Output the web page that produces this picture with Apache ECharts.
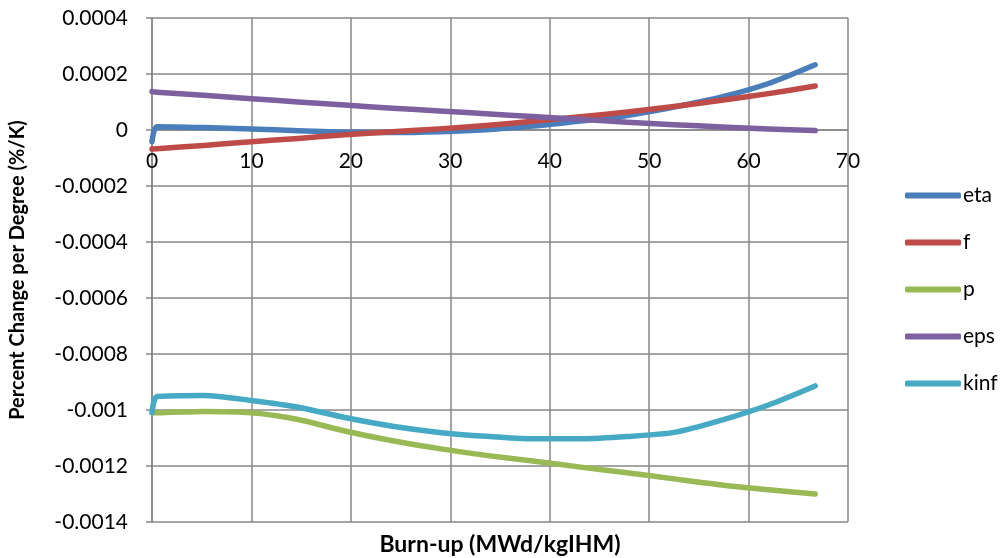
<!DOCTYPE html>
<html>
<head>
<meta charset="utf-8">
<script src="https://cdn.jsdelivr.net/npm/echarts@6/dist/echarts.min.js"></script>
<style>
  html, body { margin: 0; padding: 0; background: #fff; }
  #chart { width: 1005px; height: 558px; }
</style>
</head>
<body>
<div id="chart"></div>
<script>
// Burn-up steps (MWd/kgIHM)
const burnup = [0, 0.5, 5.2, 10, 14.7, 19.4, 24.2, 28.9, 33.6, 38.3, 43.1, 47.8, 52.5, 57.3, 62, 66.7];

// Temperature coefficients of each four-factor term (%/K)
const eta  = [-0.000042, 0.000012, 0.000009, 0.000004, -0.000003, -0.000008, -0.000009, -0.000006, 0.000001, 0.000014, 0.000032, 0.000052, 0.000082, 0.000118, 0.000166, 0.000233];
const f    = [-0.000068, -0.000067, -0.000055, -0.000042, -0.000030, -0.000017, -0.000006, 0.000004, 0.000016, 0.000031, 0.000047, 0.000064, 0.000084, 0.000106, 0.000130, 0.000157];
const p    = [-0.00101, -0.00101, -0.001005, -0.00101, -0.001034, -0.001075, -0.00111, -0.001138, -0.001162, -0.001182, -0.001204, -0.001224, -0.001246, -0.001268, -0.001285, -0.0013];
const eps  = [0.000137, 0.000135, 0.000124, 0.000112, 0.000100, 0.000089, 0.000078, 0.000068, 0.000058, 0.000048, 0.000038, 0.000028, 0.000019, 0.000011, 0.000004, -0.000002];
const kinf = [-0.00101, -0.000952, -0.000948, -0.000966, -0.00099, -0.001027, -0.001058, -0.00108, -0.001094, -0.001103, -0.001103, -0.001095, -0.00108, -0.001036, -0.000982, -0.000914];

const seriesNames = ['eta', 'f', 'p', 'eps', 'kinf'];
const seriesValues = [eta, f, p, eps, kinf];
const seriesColors = ['#4A7EBB', '#BE4B48', '#98B954', '#7D60A0', '#46AAC5'];

// Axis tick labels
const xTickLabels = ['0', '10', '20', '30', '40', '50', '60', '70'];
const yTickLabels = ['-0.0014', '-0.0012', '-0.001', '-0.0008', '-0.0006', '-0.0004', '-0.0002', '0', '0.0002', '0.0004'];
const X_MIN = 0, X_MAX = 70, X_STEP = 10;
const Y_MIN = -0.0014, Y_MAX = 0.0004, Y_STEP = 0.0002;

const FONT = 'Lato, "Open Sans", sans-serif';
const GRID_COLOR = '#878787';

// Plot box in pixels
const GRID = { left: 152, right: 157, top: 18, bottom: 36 };
const PLOT_H = 558 - GRID.top - GRID.bottom;
// Distance from the bottom edge up to the zero line, so the burn-up axis sits on y = 0
const zeroOffset = -PLOT_H * (0 - Y_MIN) / (Y_MAX - Y_MIN);

const chart = echarts.init(document.getElementById('chart'), null, { renderer: 'canvas' });

const series = seriesNames.map((name, i) => ({
  name: name,
  type: 'line',
  data: burnup.map((x, j) => [x, seriesValues[i][j]]),
  showSymbol: false,
  smooth: 0.25,
  lineStyle: { color: seriesColors[i], width: 5.5, cap: 'round', join: 'round' },
  itemStyle: { color: seriesColors[i] },
  emphasis: { disabled: true },
  z: 3
}));

chart.setOption({
  animation: false,
  backgroundColor: '#ffffff',
  grid: Object.assign({ containLabel: false, outerBoundsMode: 'none' }, GRID),
  xAxis: {
    type: 'value',
    position: 'bottom',
    offset: zeroOffset,
    min: X_MIN, max: X_MAX, interval: X_STEP,
    axisLine: { show: true, onZero: false, lineStyle: { color: GRID_COLOR, width: 1.5 } },
    axisTick: { show: false },
    axisLabel: {
      color: '#000', fontFamily: FONT, fontSize: 21, margin: 21,
      formatter: v => xTickLabels[Math.round((v - X_MIN) / X_STEP)]
    },
    splitLine: { show: true, lineStyle: { color: GRID_COLOR, width: 1.5 } }
  },
  yAxis: {
    type: 'value',
    min: Y_MIN, max: Y_MAX, interval: Y_STEP,
    name: 'Percent Change per Degree (%/K)',
    nameLocation: 'middle',
    nameGap: 124,
    nameRotate: 90,
    nameTextStyle: { color: '#000', fontFamily: FONT, fontSize: 20, fontWeight: 'bold' },
    axisLine: { show: true, lineStyle: { color: GRID_COLOR, width: 1.5 } },
    axisTick: { show: true, length: 6, lineStyle: { color: GRID_COLOR, width: 1.5 } },
    axisLabel: {
      color: '#000', fontFamily: FONT, fontSize: 21, margin: 24,
      formatter: v => yTickLabels[Math.round((v - Y_MIN) / Y_STEP)]
    },
    splitLine: { show: true, lineStyle: { color: GRID_COLOR, width: 1.5 } }
  },
  legend: {
    orient: 'vertical',
    left: 900,
    top: 180,
    itemWidth: 56,
    itemHeight: 6,
    itemGap: 26,
    icon: 'roundRect',
    selectedMode: false,
    textStyle: { color: '#000', fontFamily: FONT, fontSize: 21, padding: [0, 0, 0, -3] },
    data: seriesNames
  },
  graphic: [{
    type: 'text',
    x: 500, y: 545,
    style: {
      text: 'Burn-up (MWd/kgIHM)',
      fill: '#000',
      font: 'bold 23px ' + FONT,
      textAlign: 'center',
      textVerticalAlign: 'middle'
    }
  }],
  series: series
});
</script>
</body>
</html>
